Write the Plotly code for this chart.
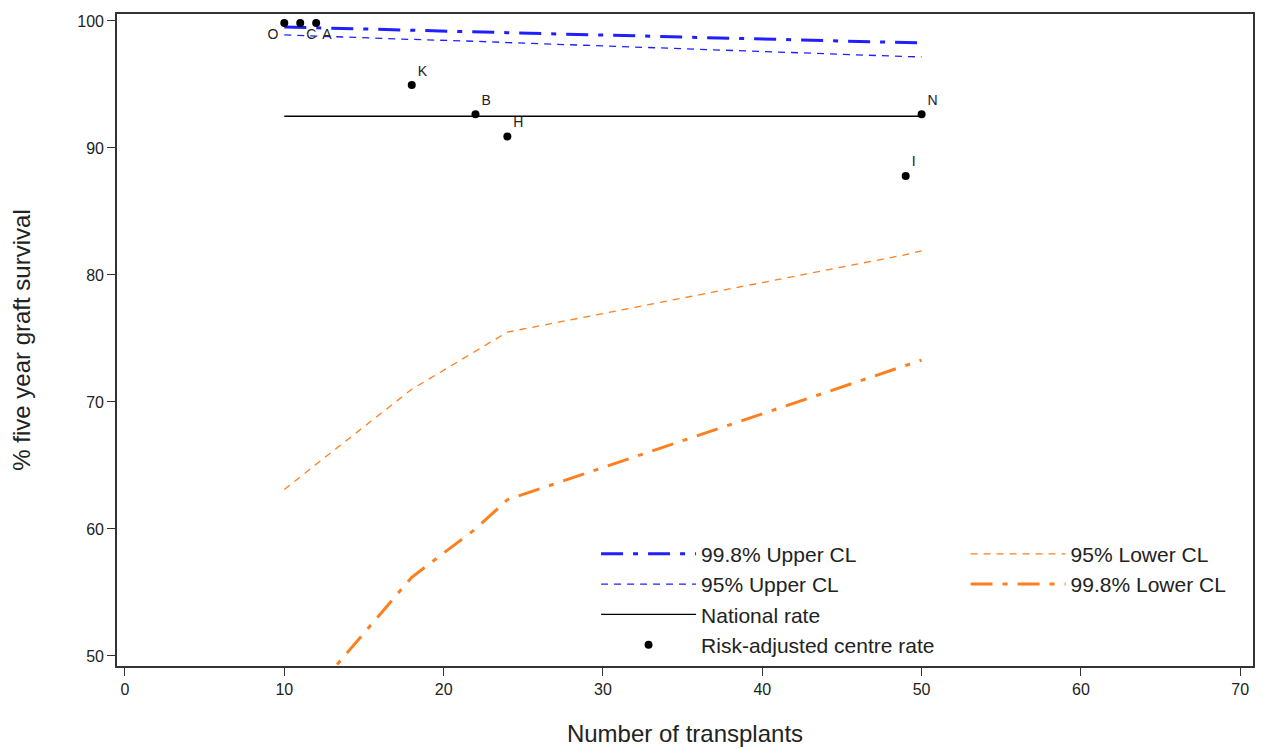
import plotly.graph_objects as go

# ---- data ----
cl_x = [10, 11, 12, 18, 22, 24, 49, 50]
upper_998 = [99.53, 99.50, 99.47, 99.30, 99.15, 99.08, 98.30, 98.27]
upper_95 = [98.90, 98.85, 98.80, 98.55, 98.40, 98.30, 97.20, 97.17]
lower_95 = [63.1, 64.1, 65.1, 71.0, 74.0, 75.5, 81.6, 81.9]
lower_998 = [44.7, 46.0, 47.4, 56.2, 60.0, 62.3, 72.9, 73.3]
national_x = [10, 50]
national_rate = [92.5, 92.5]

centre_names = ["O", "C", "A", "K", "B", "H", "I", "N"]
centre_n = [10, 11, 12, 18, 22, 24, 49, 50]
centre_rate = [99.85, 99.85, 99.85, 94.95, 92.65, 90.9, 87.8, 92.65]
label_pos = ["bottom left", "bottom right", "bottom right", "top right",
             "top right", "top right", "top right", "top right"]

x_ticks = [0, 10, 20, 30, 40, 50, 60, 70]
y_ticks = [50, 60, 70, 80, 90, 100]

BLUE = "#1f1fff"
ORANGE = "#ff7f1e"
FONT = "Liberation Sans, Arial, sans-serif"
DASH_998 = "22px,10px,5px,10px"
DASH_95 = "7px,6px"

fig = go.Figure()
fig.add_trace(go.Scatter(x=cl_x, y=upper_998, mode="lines", name="99.8% Upper CL",
                         line=dict(color=BLUE, width=3, dash=DASH_998), legend="legend"))
fig.add_trace(go.Scatter(x=cl_x, y=upper_95, mode="lines", name="95% Upper CL",
                         line=dict(color=BLUE, width=1.3, dash=DASH_95), legend="legend"))
fig.add_trace(go.Scatter(x=national_x, y=national_rate, mode="lines", name="National rate",
                         line=dict(color="black", width=1.3), legend="legend"))
fig.add_trace(go.Scatter(x=centre_n, y=centre_rate, mode="markers+text", name="Risk-adjusted centre rate",
                         text=centre_names, textposition=label_pos,
                         textfont=dict(family=FONT, size=14, color="#222"),
                         marker=dict(color="black", size=8), legend="legend"))
fig.add_trace(go.Scatter(x=cl_x, y=lower_95, mode="lines", name="95% Lower CL",
                         line=dict(color=ORANGE, width=1.3, dash=DASH_95), legend="legend2"))
fig.add_trace(go.Scatter(x=cl_x, y=lower_998, mode="lines", name="99.8% Lower CL",
                         line=dict(color=ORANGE, width=3, dash=DASH_998), legend="legend2"))

legend_common = dict(font=dict(family=FONT, size=21, color="#222"), bgcolor="rgba(0,0,0,0)",
                     xanchor="left", yanchor="top", itemwidth=95, tracegroupgap=0)
fig.update_layout(
    width=1255, height=741,
    margin=dict(l=109, r=10, t=6, b=83, autoexpand=False),
    paper_bgcolor="white", plot_bgcolor="white",
    font=dict(family=FONT, size=16, color="#222"),
    legend=dict(x=0.4217, y=0.203, **legend_common),
    legend2=dict(x=0.747, y=0.203, **legend_common),
    xaxis=dict(range=[-0.5, 70.8], tickvals=x_ticks, ticks="outside", ticklen=8,
               tickcolor="#333", showline=True, linecolor="#333", linewidth=1.6, mirror=True,
               showgrid=False, zeroline=False, automargin=False,
               title=dict(text="Number of transplants", font=dict(size=24), standoff=28),
               tickfont=dict(size=16)),
    yaxis=dict(range=[49.21, 100.55], tickvals=y_ticks, ticks="outside", ticklen=8,
               tickcolor="#333", showline=True, linecolor="#333", linewidth=1.6, mirror=True,
               showgrid=False, zeroline=False, automargin=False,
               title=dict(text="% five year graft survival", font=dict(size=24), standoff=47),
               tickfont=dict(size=16)),
)

fig.write_html("out.html")
